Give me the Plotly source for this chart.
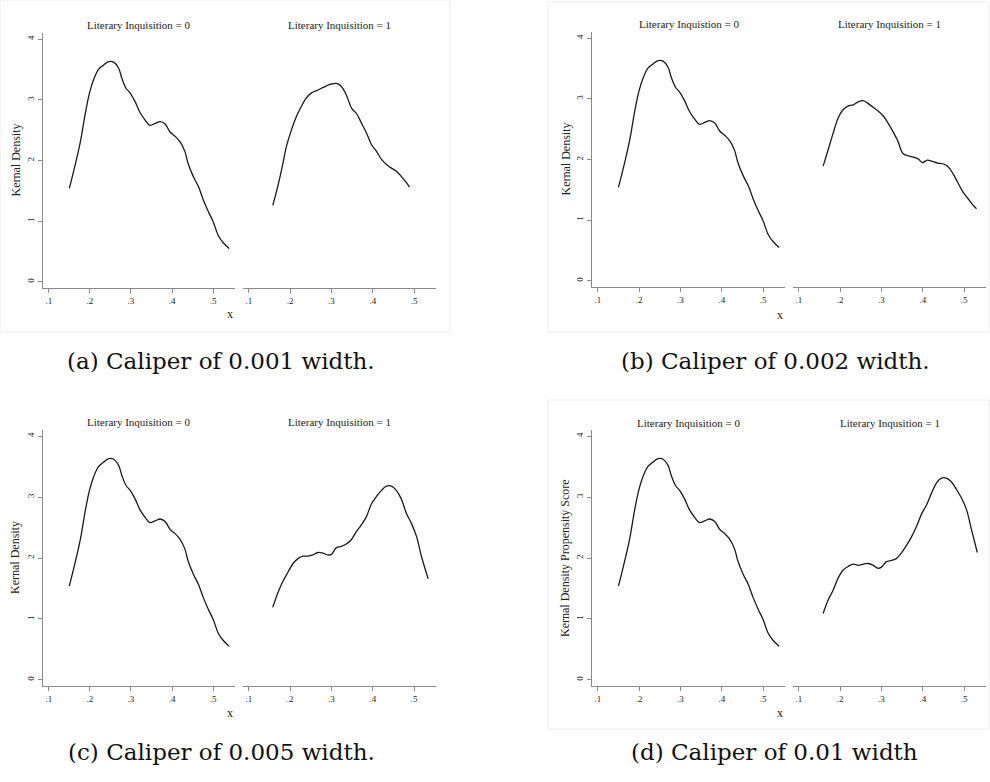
import plotly.graph_objects as go

W, H = 990, 782

# ---------------- data ----------------
x_li0 = [0.150, 0.165, 0.177, 0.189, 0.199, 0.209, 0.221, 0.233, 0.246, 0.258, 0.270, 0.278,
         0.288, 0.298, 0.310, 0.322, 0.334, 0.346, 0.359, 0.371, 0.383, 0.395, 0.407, 0.419,
         0.431, 0.439, 0.452, 0.464, 0.476, 0.488, 0.500, 0.512, 0.524, 0.539]
y_li0 = [1.54, 1.95, 2.31, 2.78, 3.11, 3.33, 3.50, 3.57, 3.63, 3.62, 3.52, 3.35,
         3.19, 3.11, 2.97, 2.79, 2.67, 2.58, 2.61, 2.64, 2.60, 2.47, 2.40, 2.31,
         2.15, 1.95, 1.73, 1.57, 1.35, 1.16, 0.99, 0.77, 0.65, 0.55]

x_a1 = [0.158, 0.170, 0.181, 0.191, 0.203, 0.215, 0.227, 0.238, 0.251, 0.264, 0.276, 0.288,
        0.300, 0.312, 0.324, 0.336, 0.349, 0.361, 0.373, 0.385, 0.397, 0.409, 0.422, 0.434,
        0.446, 0.458, 0.470, 0.481, 0.489]
y_a1 = [1.26, 1.57, 1.90, 2.23, 2.50, 2.72, 2.89, 3.02, 3.11, 3.15, 3.19, 3.23,
        3.26, 3.27, 3.22, 3.08, 2.86, 2.77, 2.61, 2.45, 2.26, 2.15, 2.01, 1.93,
        1.87, 1.82, 1.73, 1.64, 1.56]

x_b1 = [0.159, 0.171, 0.183, 0.195, 0.207, 0.219, 0.232, 0.244, 0.256, 0.268, 0.280, 0.292,
        0.304, 0.316, 0.328, 0.340, 0.352, 0.365, 0.377, 0.389, 0.399, 0.411, 0.423, 0.436,
        0.448, 0.460, 0.472, 0.484, 0.496, 0.508, 0.520, 0.530]
y_b1 = [1.89, 2.16, 2.43, 2.68, 2.82, 2.88, 2.90, 2.95, 2.97, 2.92, 2.86, 2.80,
        2.72, 2.60, 2.46, 2.30, 2.10, 2.06, 2.04, 2.01, 1.95, 1.99, 1.97, 1.94,
        1.93, 1.89, 1.78, 1.63, 1.48, 1.37, 1.26, 1.19]

x_c1 = [0.158, 0.170, 0.182, 0.195, 0.207, 0.219, 0.231, 0.243, 0.255, 0.267, 0.279, 0.292,
        0.300, 0.312, 0.324, 0.336, 0.348, 0.360, 0.372, 0.384, 0.397, 0.409, 0.421, 0.433,
        0.445, 0.457, 0.469, 0.481, 0.494, 0.506, 0.518, 0.534]
y_c1 = [1.19, 1.42, 1.61, 1.77, 1.91, 1.99, 2.03, 2.03, 2.05, 2.09, 2.08, 2.05,
        2.06, 2.17, 2.19, 2.23, 2.30, 2.43, 2.54, 2.67, 2.89, 3.01, 3.11, 3.18,
        3.18, 3.11, 2.97, 2.74, 2.56, 2.35, 2.02, 1.66]

x_d1 = [0.159, 0.171, 0.183, 0.195, 0.207, 0.219, 0.232, 0.244, 0.256, 0.268, 0.280, 0.292,
        0.300, 0.312, 0.324, 0.336, 0.348, 0.361, 0.373, 0.385, 0.397, 0.409, 0.421, 0.433,
        0.445, 0.457, 0.469, 0.482, 0.494, 0.506, 0.518, 0.532]
y_d1 = [1.09, 1.31, 1.47, 1.67, 1.80, 1.86, 1.90, 1.88, 1.90, 1.91, 1.88, 1.83,
        1.85, 1.94, 1.96, 1.99, 2.08, 2.21, 2.35, 2.52, 2.72, 2.87, 3.06, 3.23,
        3.31, 3.31, 3.25, 3.12, 2.98, 2.79, 2.46, 2.09]

x_tickvals = [0.1, 0.2, 0.3, 0.4, 0.5]
x_ticktext = [".1", ".2", ".3", ".4", ".5"]
y_tickvals = [0, 1, 2, 3, 4]
y_ticktext = ["0", "1", "2", "3", "4"]

panel_titles = [
    ("Literary Inquisition = 0", "Literary Inquisition = 1"),
    ("Literary Inquistion = 0", "Literary Inquisition = 1"),
    ("Literary Inquisition = 0", "Literary Inquisition = 1"),
    ("Literary Inquisition = 0", "Literary Inqusition = 1"),
]
panel_ylabels = ["Kernal Density", "Kernal Density", "Kernal Density",
                 "Kernal Density Propensity Score"]
captions = ["(a) Caliper of 0.001 width.", "(b) Caliper of 0.002 width.",
            "(c) Caliper of 0.005 width.", "(d) Caliper of 0.01 width"]

right_series = [(x_a1, y_a1), (x_b1, y_b1), (x_c1, y_c1), (x_d1, y_d1)]

# ---------------- layout geometry (pixels) ----------------
panels = [
    dict(L=(43, 235), R=(243, 436), Y=(33, 288), ylab_x=15, xlab=(230, 314), title_y=25,
         cap=(221, 361)),
    dict(L=(592, 785), R=(793, 986), Y=(32, 287), ylab_x=565, xlab=(780, 315), title_y=24,
         cap=(775, 361)),
    dict(L=(43, 235), R=(243, 436), Y=(430, 686), ylab_x=15, xlab=(230, 713), title_y=422,
         cap=(221, 752)),
    dict(L=(592, 785), R=(793, 986), Y=(430, 686), ylab_x=565, xlab=(780, 713), title_y=423,
         cap=(774, 752)),
]

def px(x):
    return x / W

def py(y):
    return 1 - y / H

XR = [0.086, 0.553]
YR = [-0.1, 4.1]
AX_COL = "#8a8a8a"
TXT_COL = "#222222"
SERIF = "Liberation Serif, Times New Roman, serif"
CAP_FONT = "DejaVu Serif, serif"

fig = go.Figure()
layout = dict(
    width=W, height=H, margin=dict(l=0, r=0, t=0, b=0),
    paper_bgcolor="white", plot_bgcolor="white", showlegend=False,
)
annotations = []
shapes = []

n = 0
for i, p in enumerate(panels):
    ydom = [py(p["Y"][1]), py(p["Y"][0])]
    for side in ("L", "R"):
        n += 1
        sfx = "" if n == 1 else str(n)
        xs, ys = (x_li0, y_li0) if side == "L" else right_series[i]
        fig.add_trace(go.Scatter(
            x=xs, y=ys, mode="lines", xaxis="x" + sfx, yaxis="y" + sfx,
            line=dict(color="#1a1a1a", width=1.3, shape="spline", smoothing=1.0),
            hoverinfo="skip"))
        xd = [px(p[side][0]), px(p[side][1])]
        layout["xaxis" + sfx] = dict(
            domain=xd, range=XR, anchor="y" + sfx, showgrid=False, zeroline=False,
            showline=True, linecolor=AX_COL, linewidth=1.2,
            ticks="outside", ticklen=4, tickcolor=AX_COL, tickwidth=1,
            tickvals=x_tickvals, ticktext=x_ticktext,
            tickfont=dict(family=SERIF, size=9, color=TXT_COL), fixedrange=True)
        ydef = dict(domain=ydom, range=YR, anchor="x" + sfx, showgrid=False,
                    zeroline=False, fixedrange=True)
        if side == "L":
            ydef.update(showline=True, linecolor=AX_COL, linewidth=1.2,
                        ticks="outside", ticklen=4, tickcolor=AX_COL, tickwidth=1,
                        tickvals=y_tickvals, ticktext=y_ticktext, tickangle=-90,
                        tickfont=dict(family=SERIF, size=9, color=TXT_COL))
        else:
            ydef.update(showline=False, showticklabels=False, ticks="")
        layout["yaxis" + sfx] = ydef
        annotations.append(dict(
            x=px((p[side][0] + p[side][1]) / 2), y=py(p["title_y"]), xref="paper", yref="paper",
            text=panel_titles[i][0 if side == "L" else 1], showarrow=False,
            xanchor="center", yanchor="middle",
            font=dict(family=SERIF, size=11, color=TXT_COL)))
    annotations.append(dict(
        x=px(p["ylab_x"]), y=py((p["Y"][0] + p["Y"][1]) / 2), xref="paper", yref="paper",
        text=panel_ylabels[i], showarrow=False, textangle=-90,
        xanchor="center", yanchor="middle",
        font=dict(family=SERIF, size=12, color=TXT_COL)))
    annotations.append(dict(
        x=px(p["xlab"][0]), y=py(p["xlab"][1]), xref="paper", yref="paper",
        text="x", showarrow=False, xanchor="center", yanchor="middle",
        font=dict(family=SERIF, size=12, color=TXT_COL)))
    annotations.append(dict(
        x=px(p["cap"][0]), y=py(p["cap"][1]), xref="paper", yref="paper",
        text=captions[i], showarrow=False, xanchor="center", yanchor="middle",
        font=dict(family=CAP_FONT, size=23, color="#111111")))

frames = [(0, 0, 450, 332), (548, 2, 989, 332), (548, 400, 989, 729)]
for (x0, y0, x1, y1) in frames:
    shapes.append(dict(type="rect", xref="paper", yref="paper",
                       x0=px(x0), x1=px(x1), y0=py(y1), y1=py(y0),
                       line=dict(color="#ececec", width=1), fillcolor="rgba(0,0,0,0)",
                       layer="below"))

layout["annotations"] = annotations
layout["shapes"] = shapes
fig.update_layout(**layout)
fig.write_html("out.html", config={"displayModeBar": False},
               post_script="document.body.style.margin='0';document.body.style.overflow='hidden';")
